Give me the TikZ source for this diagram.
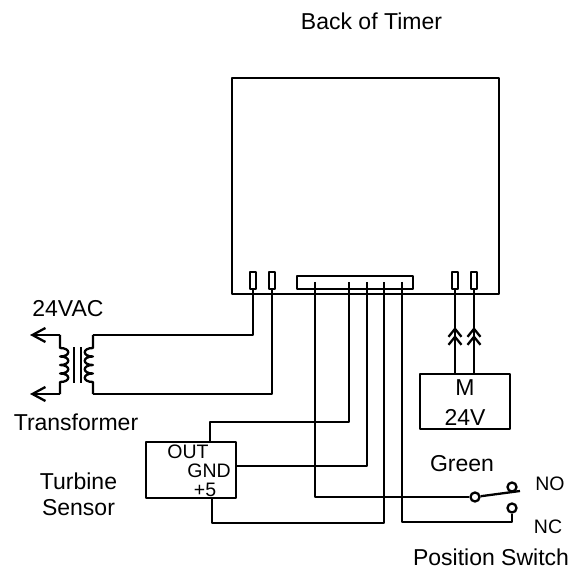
\documentclass[tikz,border=0pt]{standalone}
\usepackage{fontspec}
\setmainfont{Liberation Sans}
\usetikzlibrary{arrows.meta}
\tikzset{
  wire/.style={line width=2.3pt},
  lbl/.style={inner sep=0pt,font=\fontsize{23}{23}\selectfont},
  sml/.style={inner sep=0pt,font=\fontsize{19.5}{19.5}\selectfont},
  pinbox/.style={draw,line width=2.3pt,minimum width=6pt,minimum height=17pt,inner sep=0pt},
  contact/.style={circle,draw,line width=2.3pt,minimum size=9pt,inner sep=0pt},
  barb/.style={-{Straight Barb[length=8pt,width=13pt]}},
  barbl/.style={-{Straight Barb[length=13pt,width=14pt]}},
}
\begin{document}
\begin{tikzpicture}[x=1pt,y=1pt,line join=round]
         \useasboundingbox (0,0) rectangle (573,-569);
         \draw [wire] (232,-78) rectangle (499,-294);
         \node [lbl] (BT) at (371.5,-21) {Back of Timer};
         % terminals
         \node [pinbox] (PA) at (253,-280.5) {};
         \node [pinbox] (PB) at (272,-280.5) {};
         \node [pinbox] (PC) at (455,-280.5) {};
         \node [pinbox] (PD) at (474,-280.5) {};
         \draw [wire] (297,-276) rectangle (413,-289);
         \coordinate (C1) at (315,-282);
         \coordinate (C2) at (349,-282);
         \coordinate (C3) at (367,-282);
         \coordinate (C4) at (384,-282);
         \coordinate (C5) at (402,-282);
         % transformer
         \node [lbl] (VAC) at (68,-309) {24VAC};
         \node [lbl] (TR) at (76,-422) {Transformer};
         \coordinate (AL1) at (30,-335);
         \coordinate (AL2) at (30,-394);
         \coordinate (TL1) at (60,-335);
         \coordinate (TL2) at (60,-394);
         \coordinate (TR1) at (93,-335);
         \coordinate (TR2) at (93,-394);
         \draw [wire,barbl] (TL1) -- (AL1);
         \draw [wire,barbl] (TL2) -- (AL2);
         \draw [wire] (TL1) -- (60,-348)
            \foreach \i in {0,1,2,3} {
              .. controls (71,{-348-8.5*\i}) and (71,{-356.5-8.5*\i}) .. (60,{-356.5-8.5*\i}) }
            -- (TL2);
         \draw [wire] (TR1) -- (93,-348)
            \foreach \i in {0,1,2,3} {
              .. controls (82,{-348-8.5*\i}) and (82,{-356.5-8.5*\i}) .. (93,{-356.5-8.5*\i}) }
            -- (TR2);
         \draw [wire] (74,-347) -- (74,-383);
         \draw [wire] (81,-347) -- (81,-383);
         \draw [wire] (TR1) -- (253,-335) -- (PA.south);
         \draw [wire] (TR2) -- (272,-394) -- (PB.south);
         % motor
         \node [draw,line width=2.3pt,minimum width=90pt,minimum height=55pt] (MB) at (465,-401.5) {};
         \node [lbl] (MM) at (465,-388) {M};
         \node [lbl] (MV) at (465,-417) {24V};
         \foreach \xx/\pp in {455/PC,474/PD} {
           \draw [wire] (\xx,-374) -- (\pp.south);
           \draw [wire,barb] (\xx,-346) -- (\xx,-335);
           \draw [wire,barb] (\xx,-346) -- (\xx,-327);
         }
         % sensor
         \node [draw,line width=2.3pt,minimum width=90pt,minimum height=56pt] (TS) at (191,-470) {};
         \node [sml] (OUT) at (188,-452) {OUT};
         \node [sml] (GND) at (209,-471) {GND};
         \node [sml] (PF) at (205,-490) {+5};
         \node [lbl] (TB) at (78.5,-481) {Turbine};
         \node [lbl] (SN) at (78.5,-508) {Sensor};
         \draw [wire] (210,-442) -- (210,-422) -- (349,-422) -- (C2);
         \draw [wire] (TS.east |- 0,-466) -- (367,-466) -- (C3);
         \draw [wire] (212,-498) -- (212,-523) -- (384,-523) -- (C4);
         % switch
         \node [contact] (SC) at (475,-497) {};
         \node [contact] (NO) at (512,-487) {};
         \node [contact] (NC) at (512,-508) {};
         \coordinate (BL) at (520,-491);
         \draw [wire] (C1) -- (315,-497) -- (SC);
         \draw [wire] (C5) -- (402,-522) -- (512,-522) -- (NC);
         \draw [wire] (SC) -- (BL);
         \node [lbl] (GR) at (462,-464) {Green};
         \node [sml] (NOL) at (550,-484) {NO};
         \node [sml] (NCL) at (548,-527) {NC};
         \node [lbl] (PS) at (491,-557) {Position Switch};
\end{tikzpicture}
\end{document}
